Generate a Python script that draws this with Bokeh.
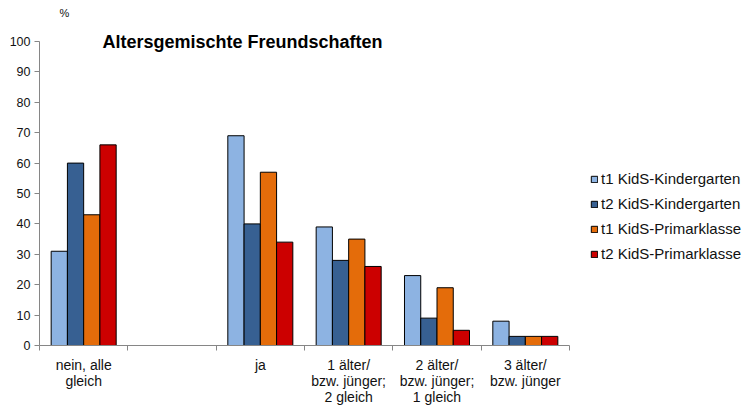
import math
from bokeh.plotting import figure
from bokeh.models import (Range1d, FixedTicker, Legend, LegendItem, Label,
                          ColumnDataSource)
from bokeh.embed import file_html
from bokeh.resources import INLINE

# ---- data -------------------------------------------------------------
categories = ["nein, alle\ngleich", "", "ja",
              "1 älter/\nbzw. jünger;\n2 gleich",
              "2 älter/\nbzw. jünger;\n1 gleich",
              "3 älter/\nbzw. jünger"]
series_names = ["t1 KidS-Kindergarten", "t2 KidS-Kindergarten",
                "t1 KidS-Primarklasse", "t2 KidS-Primarklasse"]
nan = float("nan")
t1_kiga = [31, nan, 69, 39, 23, 8]
t2_kiga = [60, nan, 40, 28, 9, 3]
t1_prim = [43, nan, 57, 35, 19, 3]
t2_prim = [66, nan, 34, 26, 5, 3]
y_ticks = list(range(0, 101, 10))
title_text = "Altersgemischte Freundschaften"
unit_text = "%"

colors = ["#8DB3E2", "#376092", "#E46C0A", "#CC0000"]
series_values = [t1_kiga, t2_kiga, t1_prim, t2_prim]

FONT = "Liberation Sans"
n = len(categories)
y_max = 100

# ---- layout (pixels) ----------------------------------------------------
W, H = 754, 409
left, bottom = 39, 64            # axis panels
axis_px = 530                    # length of the drawn x axis
top_px = 41                      # distance of the 100-line from the top
frame_w = W - left
frame_h = H - bottom
x_end = n * frame_w / axis_px
y_end = y_max * frame_h / (frame_h - top_px)

p = figure(width=W, height=H, output_backend="svg", toolbar_location=None,
           x_range=Range1d(0, x_end), y_range=Range1d(0, y_end),
           min_border_left=left, min_border_right=0, min_border_top=0,
           min_border_bottom=bottom)
p.outline_line_color = None
p.xgrid.visible = False
p.ygrid.visible = False

bar_w = 0.184
offsets = [-1.5 * bar_w, -0.5 * bar_w, 0.5 * bar_w, 1.5 * bar_w]
items = []
for name, vals, col, off in zip(series_names, series_values, colors, offsets):
    xs = [i + 0.5 + off for i in range(n) if not math.isnan(vals[i])]
    ys = [v for v in vals if not math.isnan(v)]
    src = ColumnDataSource(dict(x=xs, top=ys))
    r = p.vbar(x="x", top="top", width=bar_w, bottom=0, source=src,
               fill_color=col, line_color="black", line_width=1)
    items.append(LegendItem(label=name, renderers=[r]))

# x axis: labels at centres, tick marks at category boundaries
centers = [i + 0.5 for i in range(n)]
p.xaxis.bounds = (0, n)
p.xaxis.ticker = FixedTicker(ticks=centers, minor_ticks=list(range(n + 1)))
p.xaxis.major_label_overrides = {c: lab for c, lab in zip(centers, categories)}
p.xaxis.major_tick_out = 0
p.xaxis.major_tick_in = 0
p.xaxis.minor_tick_out = 5
p.xaxis.minor_tick_in = 0
p.xaxis.minor_tick_line_color = "#868686"
p.xaxis.axis_line_color = "#868686"
p.xaxis.major_label_text_font = FONT
p.xaxis.major_label_text_font_size = "14px"
p.xaxis.major_label_text_color = "#111111"
p.xaxis.major_label_text_line_height = 1.0
p.xaxis.major_label_standoff = 6

p.yaxis.bounds = (0, y_max)
p.yaxis.ticker = FixedTicker(ticks=y_ticks)
p.yaxis.major_tick_out = 5
p.yaxis.major_tick_in = 0
p.yaxis.minor_tick_line_color = None
p.yaxis.major_tick_line_color = "#868686"
p.yaxis.axis_line_color = "#868686"
p.yaxis.major_label_text_font = FONT
p.yaxis.major_label_text_font_size = "12.5px"
p.yaxis.major_label_text_color = "#111111"
p.yaxis.major_label_standoff = 4

p.add_layout(Label(x=0.713, y=99.8, text=title_text, text_font=FONT,
                   text_font_size="18px", text_font_style="bold",
                   text_baseline="middle", text_color="#000000"))
p.add_layout(Label(x=0.226, y=109.5, text=unit_text, text_font=FONT,
                   text_font_size="11px", text_baseline="middle",
                   text_color="#111111"))

legend = Legend(items=items, location=(551, 83), orientation="vertical",
                label_text_font=FONT, label_text_font_size="15px",
                label_text_color="#111111", glyph_width=8, glyph_height=8,
                label_height=16, label_standoff=3, spacing=8, padding=0,
                margin=0, border_line_color=None, background_fill_alpha=0)
p.add_layout(legend)

open("out.html", "w").write(file_html(p, INLINE))
